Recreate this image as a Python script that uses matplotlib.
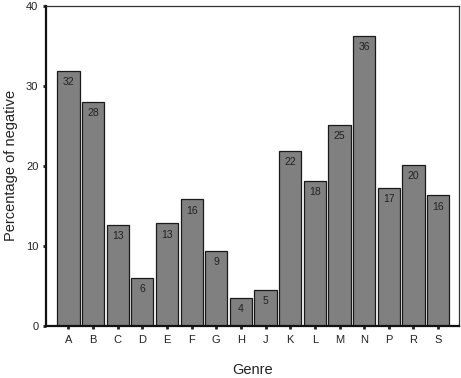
import numpy as np
import matplotlib
matplotlib.use("Agg")
import matplotlib.pyplot as plt

genres = ["A", "B", "C", "D", "E", "F", "G", "H", "J", "K", "L", "M", "N", "P", "R", "S"]
pct_negative = [31.9, 28.0, 12.6, 6.0, 12.8, 15.8, 9.4, 3.5, 4.5, 21.9, 18.1, 25.1, 36.2, 17.2, 20.1, 16.3]
bar_labels = ["32", "28", "13", "6", "13", "16", "9", "4", "5", "22", "18", "25", "36", "17", "20", "16"]

plt.rcParams["font.family"] = ["Liberation Sans", "DejaVu Sans"]

fig = plt.figure(figsize=(4.61, 3.78), dpi=100)
ax = fig.add_axes([0.0998, 0.1376, 0.8959, 0.8474])

x = np.arange(len(genres))
bars = ax.bar(x, pct_negative, width=0.9, color="#808080", edgecolor="#1a1a1a", linewidth=0.9)

for rect, lab in zip(bars, bar_labels):
    ax.annotate(lab, (rect.get_x() + rect.get_width() / 2, rect.get_height()),
                xytext=(0, -8), textcoords="offset points",
                ha="center", va="center", fontsize=7.5, color="#222222")

ax.set_xlim(-0.91, 15.85)
ax.set_ylim(0, 40)
ax.set_xticks(x)
ax.set_xticklabels(genres)
ax.set_yticks([0, 10, 20, 30, 40])

ax.tick_params(axis="both", direction="out", length=2.5, width=2, labelsize=8, colors="#222222")
ax.tick_params(axis="x", pad=4)
ax.tick_params(axis="y", pad=3)

for side in ["left", "bottom"]:
    ax.spines[side].set_linewidth(1.6)
    ax.spines[side].set_color("#111111")
for side in ["top", "right"]:
    ax.spines[side].set_linewidth(0.9)
    ax.spines[side].set_color("#333333")

ax.set_ylabel("Percentage of negative", fontsize=10.5, labelpad=6, color="#222222")
ax.set_xlabel("Genre", fontsize=10.5, labelpad=13, color="#222222")

fig.savefig("out.png", dpi=100)
